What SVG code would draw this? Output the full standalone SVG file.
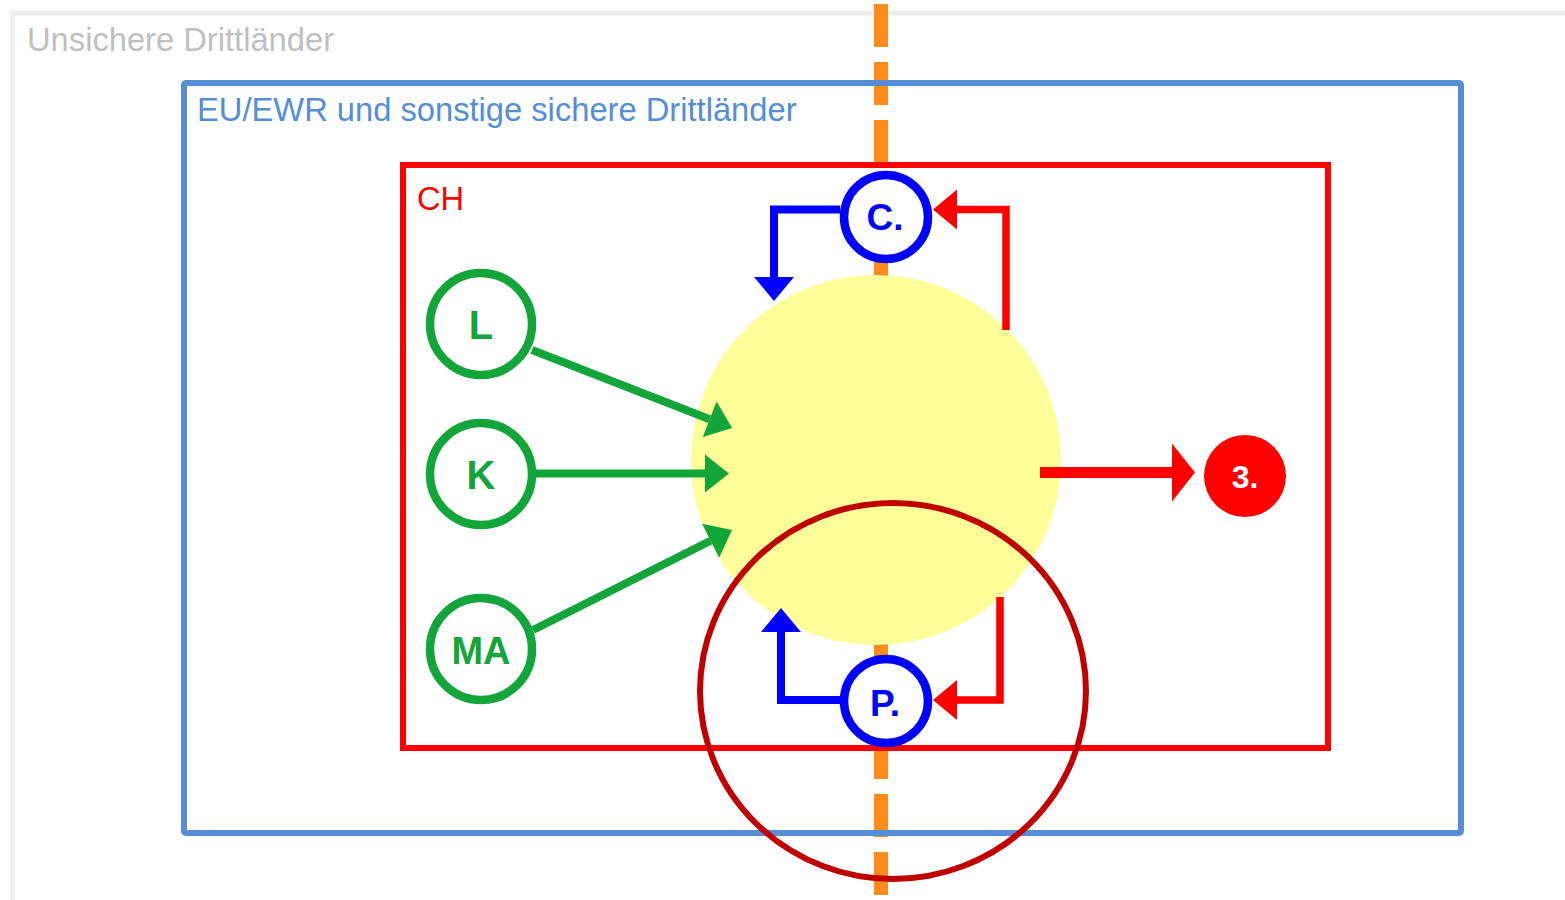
<svg xmlns="http://www.w3.org/2000/svg" width="1565" height="900" viewBox="0 0 1565 900">
  <style>
    .lbl { font-family: "Liberation Sans", Arial, sans-serif; font-size: 32.7px; }
    .nt { font-family: "Liberation Sans", Arial, sans-serif; font-weight: bold; text-anchor: middle; }
    .gn { fill: #ffffff; stroke: #12A539; stroke-width: 8.5; }
    .bn { fill: #ffffff; stroke: #0000FF; stroke-width: 8.5; }
    .gl { fill: none; stroke: #12A539; stroke-width: 8; }
    .bl { fill: none; stroke: #0000FF; stroke-width: 8; }
    .rl { fill: none; stroke: #FF0000; stroke-width: 7.5; }
  </style>
  <defs>
    <marker id="ahG" markerUnits="userSpaceOnUse" viewBox="0 -20 24 40" markerWidth="24" markerHeight="40" refX="0" refY="0" orient="auto" overflow="visible">
      <path d="M0,-19 L24,0 L0,19 z" fill="#12A539"/>
    </marker>
    <marker id="ahB" markerUnits="userSpaceOnUse" viewBox="0 -20 24 40" markerWidth="24" markerHeight="40" refX="0" refY="0" orient="auto" overflow="visible">
      <path d="M0,-20 L24,0 L0,20 z" fill="#0000FF"/>
    </marker>
    <marker id="ahR" markerUnits="userSpaceOnUse" viewBox="0 -20 24 40" markerWidth="24" markerHeight="40" refX="0" refY="0" orient="auto" overflow="visible">
      <path d="M0,-20 L24,0 L0,20 z" fill="#FF0000"/>
    </marker>
    <marker id="ahR3" markerUnits="userSpaceOnUse" viewBox="0 -30 24 60" markerWidth="24" markerHeight="60" refX="0" refY="0" orient="auto" overflow="visible">
      <path d="M0,-29 L23,0 L0,29 z" fill="#FF0000"/>
    </marker>
  </defs>

  <rect x="0" y="0" width="1565" height="900" fill="#ffffff"/>

  <g id="unsichere-drittlaender">
    <path d="M12.5,900 V13 H1565" fill="none" stroke="#EEEEEE" stroke-width="5"/>
    <text class="lbl" x="27" y="51" fill="#BFBFBF">Unsichere Drittländer</text>
  </g>

  <g id="grenze">
    <line x1="881" y1="4" x2="881" y2="665" stroke="#FF8C1A" stroke-width="14" stroke-dasharray="43 15"/>
    <line x1="881" y1="678" x2="881" y2="895" stroke="#FF8C1A" stroke-width="14" stroke-dasharray="43 15"/>
  </g>

  <g id="eu-ewr">
    <rect x="184" y="83" width="1277" height="750" rx="2" fill="none" stroke="#558ED5" stroke-width="6"/>
    <text class="lbl" x="197" y="121" fill="#558ED5">EU/EWR und sonstige sichere Drittländer</text>
  </g>

  <g id="ch">
    <rect x="403" y="165" width="925" height="583" fill="none" stroke="#FF0000" stroke-width="6"/>
    <text class="lbl" x="417" y="210" fill="#FF0000">CH</text>
  </g>

  <g id="zentrum">
    <circle cx="876" cy="460" r="185" fill="#FFFF99"/>
  </g>

  <g id="connectors">
    <path class="gl" d="M532,350 L709.7,419.3" marker-end="url(#ahG)"/>
    <path class="gl" d="M536,473.5 L705,473.5" marker-end="url(#ahG)"/>
    <path class="gl" d="M533,630 L710.6,540.8" marker-end="url(#ahG)"/>
    <path class="bl" d="M840,209.5 H774 V277" marker-end="url(#ahB)"/>
    <path class="rl" d="M1006,330 V209.5 H957" marker-end="url(#ahR)"/>
    <path class="bl" d="M840,700 H781 V632" marker-end="url(#ahB)"/>
    <path class="rl" d="M1000,597 V700 H957" marker-end="url(#ahR)"/>
    <path d="M1040,472.5 H1172" fill="none" stroke="#FF0000" stroke-width="11" marker-end="url(#ahR3)"/>
  </g>

  <g id="node-L">
    <circle class="gn" cx="481" cy="324" r="51"/>
    <text class="nt" x="481" y="339" font-size="40" fill="#12A539">L</text>
  </g>
  <g id="node-K">
    <circle class="gn" cx="481" cy="474" r="51"/>
    <text class="nt" x="481" y="489" font-size="40" fill="#12A539">K</text>
  </g>
  <g id="node-MA">
    <circle class="gn" cx="481" cy="649" r="51"/>
    <text class="nt" x="481" y="664" font-size="38" fill="#12A539">MA</text>
  </g>
  <g id="node-C">
    <circle class="bn" cx="886" cy="217" r="42"/>
    <text class="nt" x="885" y="230" font-size="37" fill="#0000FF">C.</text>
  </g>
  <g id="node-P">
    <circle class="bn" cx="886" cy="701" r="42"/>
    <text class="nt" x="885" y="716" font-size="37" fill="#0000FF">P.</text>
  </g>
  <g id="node-3">
    <circle cx="1245" cy="476" r="41" fill="#FF0000"/>
    <text class="nt" x="1245" y="488" font-size="32" fill="#FFFFFF">3.</text>
  </g>

  <g id="markierung">
    <ellipse cx="893" cy="691" rx="193" ry="188" fill="none" stroke="#C00000" stroke-width="6"/>
  </g>
</svg>
